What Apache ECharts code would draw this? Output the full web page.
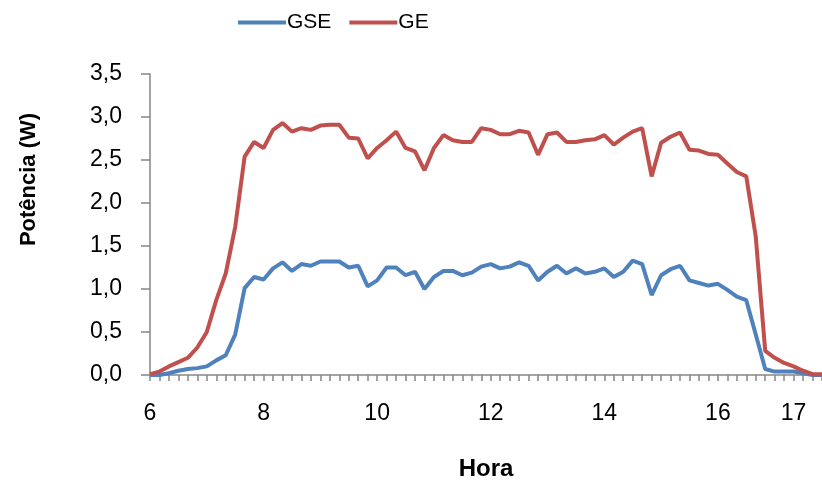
<!DOCTYPE html>
<html>
<head>
<meta charset="utf-8">
<script src="https://cdn.jsdelivr.net/npm/echarts@6/dist/echarts.min.js"></script>
<style>html,body{margin:0;padding:0;background:#fff}#c{width:822px;height:487px}</style>
</head>
<body>
<div id="c"></div>
<script>
const categories = ['6:00','6:10','6:20','6:30','6:40','6:50','7:00','7:10','7:20','7:30','7:40','7:50',
 '8:00','8:10','8:20','8:30','8:40','8:50','9:00','9:10','9:20','9:30','9:40','9:50',
 '10:00','10:10','10:20','10:30','10:40','10:50','11:00','11:10','11:20','11:30','11:40','11:50',
 '12:00','12:10','12:20','12:30','12:40','12:50','13:00','13:10','13:20','13:30','13:40','13:50',
 '14:00','14:10','14:20','14:30','14:40','14:50','15:00','15:10','15:20','15:30','15:40','15:50',
 '16:00','16:10','16:20','16:30','16:40','16:50','17:00','17:10','17:20','17:30','17:40','17:50'];
const tickIndex = [0, 12, 24, 36, 48, 60, 68];
const tickLabels = ['6', '8', '10', '12', '14', '16', '17'];
const gse = [0.00,0.00,0.02,0.05,0.07,0.08,0.10,0.17,0.23,0.47,1.01,1.14,
 1.11,1.24,1.31,1.21,1.29,1.27,1.32,1.32,1.32,1.25,1.27,1.03,
 1.10,1.25,1.25,1.16,1.20,1.00,1.14,1.21,1.21,1.16,1.19,1.26,
 1.29,1.24,1.26,1.31,1.27,1.10,1.20,1.27,1.18,1.24,1.18,1.20,
 1.24,1.14,1.20,1.33,1.29,0.93,1.16,1.23,1.27,1.10,1.07,1.04,
 1.06,0.99,0.91,0.87,0.47,0.07,0.04,0.04,0.04,0.02,0.00,0.00];
const ge = [0.01,0.04,0.10,0.15,0.20,0.32,0.50,0.87,1.18,1.72,2.54,2.71,
 2.64,2.85,2.93,2.83,2.87,2.85,2.90,2.91,2.91,2.76,2.75,2.52,
 2.64,2.73,2.83,2.64,2.60,2.38,2.64,2.79,2.73,2.71,2.71,2.87,
 2.85,2.80,2.80,2.84,2.82,2.56,2.80,2.82,2.71,2.71,2.73,2.74,
 2.79,2.68,2.76,2.83,2.87,2.31,2.70,2.77,2.82,2.62,2.61,2.57,
 2.56,2.46,2.36,2.31,1.61,0.28,0.20,0.14,0.10,0.05,0.01,0.01];

const chart = echarts.init(document.getElementById('c'), null, {renderer: 'canvas'});
const axisColor = '#868686';
const font = "'Liberation Sans', Arial, sans-serif";
chart.setOption({
  animation: false,
  backgroundColor: '#fff',
  legend: {
    left: 233, top: 7,
    icon: 'rect', itemWidth: 48, itemHeight: 4, itemGap: 18,
    textStyle: {fontFamily: font, fontSize: 21, color: '#000', padding: [0,0,0,-4]},
    data: ['GSE', 'GE']
  },
  grid: {left: 150, top: 74, width: 676, height: 301, containLabel: false},
  xAxis: {
    type: 'category', data: categories, boundaryGap: false,
    name: 'Hora', nameLocation: 'middle', nameGap: 82,
    nameTextStyle: {fontFamily: font, fontSize: 24, fontWeight: 'bold', color: '#000'},
    axisLine: {lineStyle: {color: axisColor, width: 1.5}},
    axisTick: {show: true, interval: 0, length: 6, lineStyle: {color: axisColor, width: 1.5}},
    axisLabel: {
      interval: (i) => tickIndex.includes(i),
      formatter: (v, i) => { const k = tickIndex.indexOf(i); return k >= 0 ? tickLabels[k] : ''; },
      margin: 27, fontFamily: font, fontSize: 23, color: '#000'
    },
    splitLine: {show: false}
  },
  yAxis: {
    type: 'value', min: 0, max: 3.5, interval: 0.5,
    name: 'Potência (W)', nameLocation: 'middle', nameGap: 110, nameRotate: 90,
    nameTextStyle: {fontFamily: font, fontSize: 22, fontWeight: 'bold', color: '#000', padding: [0, 0, 0, 90]},
    axisLine: {show: true, lineStyle: {color: axisColor, width: 1.5}},
    axisTick: {show: true, length: 9, lineStyle: {color: axisColor, width: 1.5}},
    axisLabel: {
      formatter: (v) => v.toFixed(1).replace('.', ','),
      margin: 28, fontFamily: font, fontSize: 23, color: '#000'
    },
    splitLine: {show: false}
  },
  series: [
    {name: 'GSE', type: 'line', data: gse, showSymbol: false, symbol: 'none',
     lineStyle: {color: '#4F81BD', width: 4}, itemStyle: {color: '#4F81BD'}},
    {name: 'GE', type: 'line', data: ge, showSymbol: false, symbol: 'none',
     lineStyle: {color: '#C0504D', width: 4}, itemStyle: {color: '#C0504D'}}
  ]
});
</script>
</body>
</html>
